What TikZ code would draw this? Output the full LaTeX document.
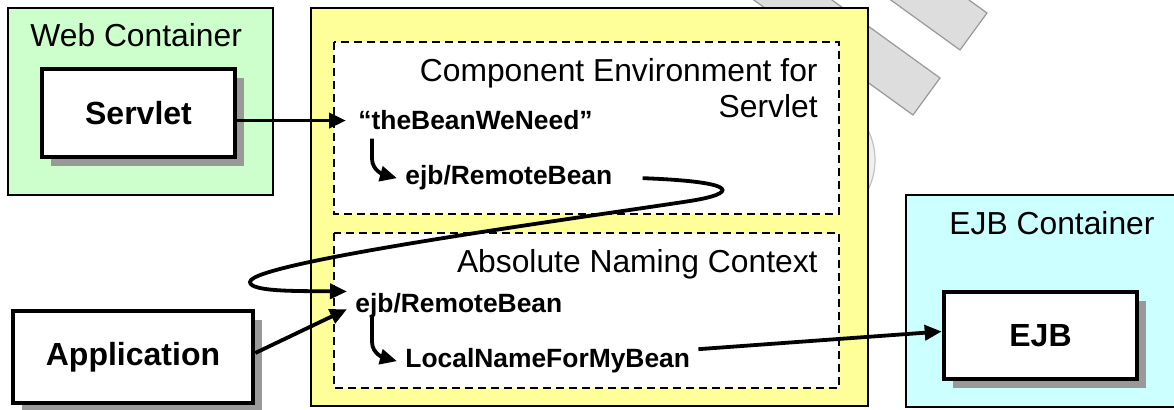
\documentclass[tikz,border=0pt]{standalone}
\usepackage{fontspec}
\setmainfont{Liberation Sans}
\usetikzlibrary{arrows.meta,shadows}
\definecolor{webgreen}{HTML}{CCFFCC}
\definecolor{envyellow}{HTML}{FFFF99}
\definecolor{ejbcyan}{HTML}{CCFFFF}
\definecolor{shadowgray}{HTML}{999999}
\definecolor{markgray}{HTML}{DDDDDD}
\begin{document}
\begin{tikzpicture}[x=0.5pt,y=-0.5pt]
    \tikzstyle{container}=[draw=black, line width=0.8pt]
    \tikzstyle{area}=[draw=black, line width=0.7pt, dash pattern=on 4pt off 2.5pt, fill=white]
    \tikzstyle{box}=[draw=black, line width=2.3pt, fill=white, font=\fontsize{16}{19}\selectfont\bfseries,
        drop shadow={shadow xshift=4.5pt, shadow yshift=-4.5pt, fill=shadowgray, opacity=1}]
    \tikzstyle{title}=[inner sep=0pt, font=\fontsize{15.9}{19}\selectfont]
    \tikzstyle{entry}=[inner xsep=4pt, inner ysep=1pt, font=\fontsize{13.2}{16}\selectfont\bfseries]
    \tikzstyle{link}=[line width=1.9pt, -{Triangle[length=8.5pt,width=7.5pt]}]
    \useasboundingbox (0,0) rectangle (1174,410);
    \draw [shadowgray, fill=markgray, line width=0.6pt] (940,78) -- (913,115) -- (589,-119) -- (616,-156) -- cycle;
    \draw [shadowgray, fill=markgray, line width=0.6pt] (987,13) -- (960,50) -- (636,-184) -- (663,-221) -- cycle;
    \draw [shadowgray!60, fill=gray!12, line width=0.6pt] (808,160) circle (67);
    \draw [container, fill=webgreen] (8,8) rectangle (273,195);
    \draw [container, fill=envyellow] (311,8) rectangle (868,406);
    \draw [container, fill=ejbcyan] (906,195) rectangle (1180,407);
    \draw [area] (334,42) rectangle (839,214);
    \draw [area] (334,233) rectangle (839,388);
    \node [title, anchor=base west] (webtitle) at (30,47) {Web Container};
    \node [title, anchor=base east] (envtitle) at (818,82) {Component Environment for};
    \node [title, anchor=base east] (envtitleb) at (818,118) {Servlet};
    \node [title, anchor=base east] (abstitle) at (818,273) {Absolute Naming Context};
    \node [title, anchor=base] (ejbtitle) at (1052,235) {EJB Container};
    \node [box, minimum width=96.5pt, minimum height=44pt] (servlet) at (138.5,113) {Servlet};
    \node [box, minimum width=120pt, minimum height=46pt] (app) at (133,357) {Application};
    \node [box, minimum width=96.5pt, minimum height=43.5pt] (ejb) at (1040.5,335.5) {EJB};
    \node [entry, inner xsep=6pt, anchor=base west] (bean) at (346,130) {“theBeanWeNeed”};
    \node [entry, anchor=base west] (remoteA) at (397,185) {ejb/RemoteBean};
    \node [entry, anchor=base west] (remoteB) at (347,313) {ejb/RemoteBean};
    \node [entry, anchor=base west] (localname) at (397,368) {LocalNameForMyBean};
    \draw [link] (servlet.east |- bean.west) -- (bean.west);
    \draw [link] ([xshift=13pt,yshift=-3pt]bean.south west) -- ++(0,20) to[out=-90,in=165] (remoteA.west);
    \draw [link] ([xshift=11pt]remoteA.east) .. controls (745,182) and (735,194) .. (690,201)
        .. controls (590,216.5) and (250,262) .. (250,282)
        .. controls (250,292) and (300,291) .. (remoteB.north west);
    \draw [link] ([yshift=2pt]app.east) -- ([yshift=-1.5pt]remoteB.west);
    \draw [link] ([xshift=12.5pt,yshift=2.5pt]remoteB.south west) -- ++(0,26) to[out=-90,in=165] (localname.west);
    \draw [link] ([yshift=6pt]localname.east) -- ([yshift=2pt]ejb.west);
\end{tikzpicture}
\end{document}
